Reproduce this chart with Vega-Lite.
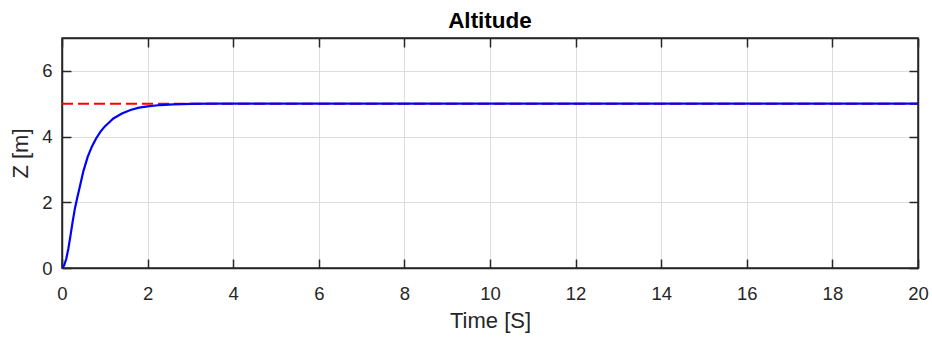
{
  "$schema": "https://vega.github.io/schema/vega-lite/v6.json",
  "width": 856,
  "height": 230,
  "autosize": "none",
  "padding": {"left": 62, "top": 38, "right": 14, "bottom": 70},
  "background": "white",
  "config": {
    "view": {"stroke": "#262626", "strokeWidth": 1.5},
    "font": "Liberation Sans"
  },
  "title": {
    "text": "Altitude",
    "fontSize": 22.5,
    "fontWeight": "bold",
    "color": "#000000",
    "font": "Liberation Sans",
    "anchor": "middle",
    "baseline": "alphabetic",
    "offset": -13
  },
  "datasets": {
    "ref": [
      {"t": 0, "z": 5},
      {"t": 20, "z": 5}
    ],
    "resp": [
      {"t": 0, "z": 0},
      {"t": 0.05, "z": 0.08},
      {"t": 0.1, "z": 0.28},
      {"t": 0.15, "z": 0.6},
      {"t": 0.2, "z": 1.0},
      {"t": 0.25, "z": 1.42},
      {"t": 0.3, "z": 1.8},
      {"t": 0.35, "z": 2.1},
      {"t": 0.4, "z": 2.38},
      {"t": 0.5, "z": 2.95},
      {"t": 0.6, "z": 3.38},
      {"t": 0.7, "z": 3.7},
      {"t": 0.8, "z": 3.95},
      {"t": 0.9, "z": 4.15},
      {"t": 1.0, "z": 4.31},
      {"t": 1.1, "z": 4.43},
      {"t": 1.2, "z": 4.55},
      {"t": 1.4, "z": 4.7},
      {"t": 1.6, "z": 4.81},
      {"t": 1.8, "z": 4.88},
      {"t": 2.0, "z": 4.92},
      {"t": 2.3, "z": 4.96},
      {"t": 2.6, "z": 4.98},
      {"t": 3.0, "z": 4.995},
      {"t": 3.5, "z": 5},
      {"t": 20, "z": 5}
    ]
  },
  "resolve": {"axis": {"x": "independent", "y": "independent"}},
  "layer": [
    {
      "data": {"name": "ref"},
      "mark": {"type": "line", "color": "#ff0000", "strokeWidth": 2, "strokeDash": [11, 5], "clip": true},
      "encoding": {
        "x": {
          "field": "t", "type": "quantitative",
          "scale": {"domain": [0, 20], "nice": false, "zero": false},
          "axis": {
            "orient": "bottom",
            "values": [0, 2, 4, 6, 8, 10, 12, 14, 16, 18, 20],
            "grid": true, "gridColor": "#dedede", "gridWidth": 1,
            "tickSize": -9, "tickColor": "#262626", "tickWidth": 1.5,
            "domainColor": "#262626", "domainWidth": 1.5,
            "labelFontSize": 18.5, "labelColor": "#262626", "labelPadding": 25,
            "labelFont": "Liberation Sans", "labelFlush": false,
            "title": "Time [S]", "titleFontSize": 22, "titleFontWeight": "normal",
            "titleColor": "#262626", "titleFont": "Liberation Sans", "titlePadding": 8
          }
        },
        "y": {
          "field": "z", "type": "quantitative",
          "scale": {"domain": [0, 7], "nice": false, "zero": false},
          "axis": {
            "orient": "left",
            "values": [0, 2, 4, 6],
            "grid": true, "gridColor": "#dedede", "gridWidth": 1,
            "tickSize": -9, "tickColor": "#262626", "tickWidth": 1.5,
            "domainColor": "#262626", "domainWidth": 1.5,
            "labelFontSize": 18.5, "labelColor": "#262626", "labelPadding": 19,
            "labelFont": "Liberation Sans", "labelFlush": false,
            "title": "Z [m]", "titleFontSize": 22, "titleFontWeight": "normal",
            "titleColor": "#262626", "titleFont": "Liberation Sans", "titlePadding": 9
          }
        }
      }
    },
    {
      "data": {"name": "resp"},
      "mark": {"type": "line", "color": "#0000ff", "strokeWidth": 2.2, "clip": true},
      "encoding": {
        "x": {
          "field": "t", "type": "quantitative",
          "axis": {
            "orient": "top",
            "values": [0, 2, 4, 6, 8, 10, 12, 14, 16, 18, 20],
            "grid": false, "labels": false, "title": null,
            "tickSize": -9, "tickColor": "#262626", "tickWidth": 1.5,
            "domainColor": "#262626", "domainWidth": 1.5
          }
        },
        "y": {
          "field": "z", "type": "quantitative",
          "axis": {
            "orient": "right",
            "values": [0, 2, 4, 6],
            "grid": false, "labels": false, "title": null,
            "tickSize": -9, "tickColor": "#262626", "tickWidth": 1.5,
            "domainColor": "#262626", "domainWidth": 1.5
          }
        }
      }
    }
  ]
}
